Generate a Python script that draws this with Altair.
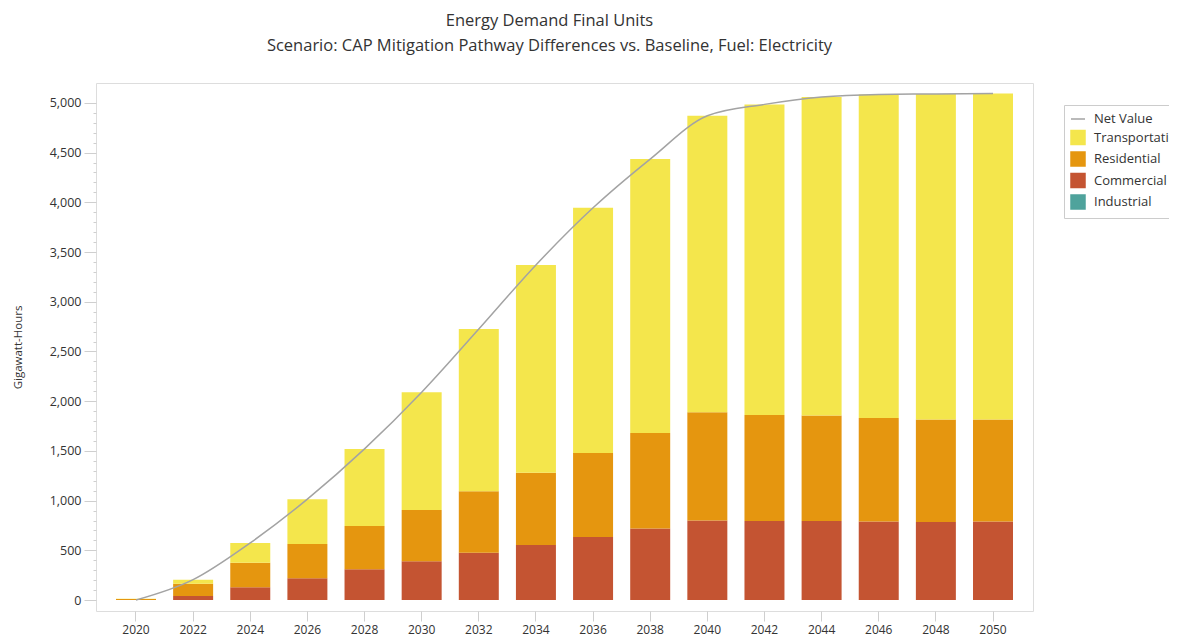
import altair as alt
import pandas as pd

years = [str(y) for y in range(2020, 2051, 2)]
commercial = [0, 40, 130, 220, 310, 390, 475, 555, 635, 720, 800, 795, 795, 790, 785, 790]
residential = [10, 125, 245, 345, 435, 515, 620, 725, 845, 960, 1090, 1065, 1060, 1040, 1030, 1025]
transportation = [2, 40, 200, 450, 775, 1185, 1630, 2090, 2465, 2755, 2980, 3125, 3205, 3255, 3275, 3280]
industrial = [0] * 16
net_value = [0, 205, 575, 1015, 1520, 2090, 2725, 3370, 3945, 4435, 4870, 4985, 5060, 5085, 5090, 5095]

series_names = ["Net Value", "Transportation", "Residential", "Commercial", "Industrial"]
series_colors = ["#a3a3a3", "#F4E64C", "#E5960F", "#C45432", "#4FA39C"]
series_shapes = ["stroke", "square", "square", "square", "square"]
stack_rank = {"Commercial": 1, "Residential": 2, "Transportation": 3, "Industrial": 0}
y_tick_values = list(range(0, 5001, 100))

rows = []
for name, vals in [("Commercial", commercial), ("Residential", residential),
                   ("Transportation", transportation), ("Industrial", industrial)]:
    for y, v in zip(years, vals):
        rows.append({"Year": y, "Series": name, "Value": v, "rank": stack_rank[name]})
bars_df = pd.DataFrame(rows)
line_df = pd.DataFrame({"Year": years, "Series": "Net Value", "Value": net_value})

FONT = "Open Sans"
color_scale = alt.Scale(domain=series_names, range=series_colors)

x_axis = alt.Axis(title=None, labelAngle=0, domain=False, tickSize=10,
                  tickColor="#cfcfcf", labelFontSize=12, labelColor="#333333",
                  labelPadding=3, labelFont=FONT)
x_scale = alt.Scale(paddingInner=0.3, paddingOuter=0.35)

y_scale = alt.Scale(domain=[-110, 5200], nice=False, zero=False)
y_axis = alt.Axis(
    title="Gigawatt-Hours", values=y_tick_values,
    labelExpr="datum.value % 500 === 0 ? format(datum.value, ',') : ''",
    labelOverlap=False,
    domain=False, grid=False,
    tickSize={"condition": {"test": "datum.value % 500 === 0", "value": 12}, "value": 3},
    tickColor="#cfcfcf",
    labelFontSize=12.5, labelColor="#333333", labelPadding=3,
    titleFontSize=11.5, titleFontWeight="normal", titleColor="#333333",
    titlePadding=26, labelFont=FONT, titleFont=FONT)

legend = alt.Legend(title=None, orient="none", legendX=968, legendY=22, padding=6,
                    strokeColor="#cccccc", rowPadding=1.5, symbolSize=196, labelOffset=8,
                    labelFontSize=13, labelColor="#333333", labelFont=FONT,
                    symbolStrokeWidth=1.5, labelLimit=200)

bars = alt.Chart(bars_df).mark_bar().encode(
    x=alt.X("Year:O", scale=x_scale, axis=x_axis),
    y=alt.Y("Value:Q", stack="zero", scale=y_scale, axis=y_axis),
    color=alt.Color("Series:N", scale=color_scale, legend=legend),
    order=alt.Order("rank:Q", sort="ascending"),
)

line = alt.Chart(line_df).mark_line(interpolate="monotone", strokeWidth=1.5).encode(
    x=alt.X("Year:O", scale=x_scale, axis=x_axis),
    y=alt.Y("Value:Q", scale=y_scale, axis=y_axis),
    color=alt.Color("Series:N", scale=color_scale, legend=legend),
)

legend_shape = alt.Chart(line_df).mark_point(size=0, opacity=0).encode(
    x=alt.X("Year:O", scale=x_scale, axis=x_axis),
    y=alt.Y("Value:Q", scale=y_scale, axis=y_axis),
    shape=alt.Shape("Series:N", scale=alt.Scale(domain=series_names, range=series_shapes),
                    legend=legend),
)

chart = alt.layer(bars, line, legend_shape).properties(
    width=937, height=528,
    title=alt.TitleParams(
        text="Energy Demand Final Units",
        subtitle="Scenario: CAP Mitigation Pathway Differences vs. Baseline, Fuel: Electricity",
        fontSize=16.5, subtitleFontSize=16.5, fontWeight="normal", color="#333333",
        subtitleColor="#333333", font=FONT, subtitleFont=FONT, anchor="middle",
        frame="group", dx=-15, offset=29, subtitlePadding=8),
    autosize=alt.AutoSizeParams(type="none"),
    padding={"left": 88, "top": 75, "right": 136, "bottom": 34},
).configure_view(stroke="#d6d6d6", strokeWidth=1.5).configure(background="white")

chart.save("out.html", embed_options={"renderer": "svg", "actions": False})
